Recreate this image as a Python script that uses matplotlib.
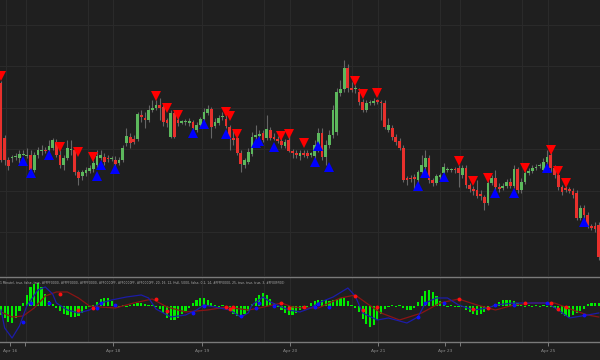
import numpy as np
import matplotlib
matplotlib.use('Agg')
import matplotlib.pyplot as plt

# candles (price units), one entry per bar
opens = [217, 162, 140, 142, 143, 142, 145, 144, 145, 130, 145, 149, 150, 150, 152, 158, 145, 135, 142, 150,
         150, 128, 124, 127, 129, 131, 135, 142, 143, 142, 141, 140, 137, 140, 157, 163, 161, 161, 185, 182,
         180, 190, 192, 195, 193, 180, 163, 187, 180, 177.5, 178, 177, 178, 170, 175, 181, 187, 191, 174, 177,
         183, 181, 173, 161.5, 162, 147, 135, 138, 146, 163, 164, 167, 162, 170, 162.5, 161, 159, 154, 160, 149,
         146.5, 144, 147, 147, 145.5, 144, 150, 167, 143, 155, 165, 168, 207, 211, 232, 212, 211, 208, 198, 190,
         197, 197, 199, 198, 197, 170, 172, 163, 159, 152, 121, 121.5, 122, 120, 128, 133, 142, 120, 117, 123.5,
         127, 130, 130, 130.5, 132, 125, 132, 115, 111, 110, 105, 103, 97, 117, 122, 112, 112, 114, 118, 114,
         131, 110, 118, 127, 129, 132, 134, 130, 138, 145, 132, 125, 113, 111, 110, 109, 107, 82, 92, 85,
         73, 74, 75]
highs = [219, 165, 143, 145, 147, 150, 150, 152, 150, 148, 153, 155, 153, 160, 162, 161, 150, 145, 160, 160,
         152, 130, 130, 133, 135, 140, 150, 150, 147, 145, 144, 144, 143, 155, 172, 167, 165, 188, 190, 188,
         195, 200, 200, 202, 197, 182, 190, 189, 183, 180, 181, 182, 180, 178, 183, 192, 195, 193, 182, 185,
         188, 185, 175, 170, 165, 150, 142, 152, 168, 175, 170, 170, 185, 173, 167, 164, 162, 161, 165, 151,
         150, 150, 150, 150, 148, 160, 172, 172, 160, 170, 195, 212, 220, 240, 236, 218, 215, 212, 201, 200,
         200, 202, 201, 200, 200, 182, 175, 166, 162, 155, 124, 125, 126, 130, 145, 150, 145, 122, 126, 127,
         137, 133, 132, 133, 135, 135, 135, 117, 114, 120, 110, 105, 120, 125, 130, 117, 117, 121, 122, 135,
         133, 122, 130, 132, 135, 136, 137, 142, 150, 148, 135, 128, 115, 114, 113, 112, 110, 95, 95, 88,
         76, 78, 78]
lows = [138, 135, 130, 138, 140, 137, 145, 142, 131, 128, 142, 145, 147, 148, 150, 143, 132, 130, 140, 145,
        125, 115, 120, 124, 127, 128, 132, 140, 135, 138, 139, 133, 135, 138, 154, 152, 156, 159, 178, 172,
        178, 188, 190, 180, 174, 173, 162, 162, 174, 176, 175, 174, 170, 168, 173, 179, 185, 162, 172, 175,
        180, 172, 150, 155, 145, 128, 132, 136, 144, 161, 162, 158, 160, 160, 160, 157, 152, 152, 148, 142,
        142, 140, 143, 142, 143, 140, 148, 140, 135, 152, 162, 165, 204, 208, 208, 208, 207, 195, 188, 188,
        195, 195, 196, 180, 171, 168, 160, 155, 150, 118, 115, 118, 110, 117, 126, 130, 117, 114, 115, 120,
        125, 128, 128, 127, 113, 122, 112, 108, 105, 102, 100, 90, 95, 115, 110, 108, 110, 112, 112, 112,
        107, 107, 116, 125, 127, 130, 132, 128, 136, 128, 122, 110, 105, 108, 107, 102, 80, 80, 82, 72,
        70, 68, 40]
closes = [140, 140, 134, 143, 144, 146, 146, 145, 130, 145, 150, 150, 149, 154, 160, 145, 135, 142, 152, 151,
          128, 122, 128, 130, 132, 137, 144, 145, 138, 141, 142, 136, 140, 152, 164, 157, 158, 186, 183, 180,
          190, 192, 195, 192, 178, 177, 187, 163, 177, 178.5, 179, 179, 172, 175, 181, 188, 191, 173, 178, 182,
          183.5, 174, 162, 160.5, 147, 136, 140, 148, 163, 165, 166, 160, 171, 162, 161.5, 159, 155, 158, 149, 147,
          145.5, 147, 145, 144, 146, 155, 167, 143, 155, 165, 190, 208, 211, 232, 212, 210, 212, 198, 190, 197,
          198, 199, 198.5, 197, 173, 175, 163, 158, 152, 120, 120.5, 121, 121.5, 128, 135, 142, 120, 117, 124, 124,
          133, 130.5, 130.5, 130, 127, 132, 115, 111, 109, 104, 104.5, 97, 117, 122, 113, 111.5, 114, 118, 114, 131,
          110, 118, 127, 129, 132, 133, 134.5, 138, 143, 132, 125, 113, 108, 110.5, 109.5, 105, 82, 92, 85, 75,
          72.5, 71, 43]

# signal triangles (bar index, price)
sell_idx = [0, 16, 21, 25, 42, 45, 48, 61, 62, 64, 76, 78, 82, 96, 98, 102, 124, 128, 132, 142, 149, 151, 153]
sell_px = [224, 153, 148, 143, 204, 192, 185, 188, 184, 166, 164, 166, 157, 219, 206, 207, 139, 119, 122, 132, 150, 129, 117]
buy_idx = [6, 8, 13, 26, 27, 31, 52, 55, 61, 69, 70, 74, 85, 86, 89, 113, 115, 120, 134, 139, 148, 158]
buy_px = [139, 127, 145, 124, 135, 131, 167, 176, 166, 157, 159, 153, 138, 154, 133, 114, 127, 123, 107, 107, 132, 78]

# oscillator histogram, one per bar
hist = [-9, -12, -16, -17, -12, -5, 3, 11, 19, 22, 23, 19, 12, 5, 2, -2, -5, -8, -9, -11,
        -11, -10, -7, -3, -1, 1, 4, 7, 8, 8, 5, 1, -1, 1, -1, 1, 2, 3, 3, 2,
        1, 0.5, -1, -3, -7, -12, -14, -14, -12, -8, -5, -2, 3, 6, 8, 8, 6, 3, 1, -1,
        1, -1, -4, -8, -10, -11, -8, -5, 2, 8, 11, 13, 11, 7, 3, -1, -4, -7, -9, -9,
        -7, -4, -2, -1, 3, 5, 6, 6, 6, 5, 6, 7, 8, 8, 5, 1, -2, -6, -13, -18,
        -21, -19, -14, -8, -3, -1, 1, -1, 1, -2, -4, -4, -2, 4, 10, 15, 16, 14, 10, 5,
        1, -1, 1, -1, -1, -1, -4, -6, -8, -9, -8, -6, -4, -1, 2, 4, 6, 6, 6, 5,
        3, 1, -1, 1, -1, 1, -1, 1, -1, -1, -2, -5, -8, -10, -11, -9, -7, -5, -3, 2,
        3, 3, 3]

fast_idx = [0, 1, 3, 5, 7, 10, 12, 14, 15, 18, 21, 24, 27, 30, 34, 38, 40, 42, 46, 50, 53, 55, 58, 62, 65,
            67, 68, 71, 73, 76, 78, 81, 84, 86, 90, 94, 96, 98, 102, 105, 110, 113, 115, 118, 121, 124, 128,
            132, 134, 139, 143, 148, 151, 154, 159, 162]
fast_val = [-4, -22, -32, -20, 0, 16, 19, 12, 3, -4, -7, -4, 3, 6, 9, 11, 8, -3, -11, -9, -4, 1, -1, -4, -11,
            -7, 1, 9, 4, -1, -4, -6, -2, 3, 9, 18, 10, -7, -14, -12, -17, -11, 3, 8, 8, 1, -4,
            -2, 1, 3, 3, 3, -4, -12, -9, -7]
slow_idx = [0, 3, 6, 9, 12, 15, 18, 21, 24, 27, 31, 36, 41, 45, 50, 56, 61, 67, 70, 76, 79, 82, 86, 92, 96,
            99, 103, 108, 114, 119, 124, 129, 134, 139, 144, 150, 155, 159, 162]
slow_val = [-6, -11, -10, -2, 10, 14, 14, 8, 0, -1, -2, 3, 7, -1, -6, -4, -1, -4, -2, 3, -1, -2, -2, 8, 11,
            3, -7, -14, -7, 3, 7, 1, -4, 1, 3, 3, -4, -9, -11]

red_dot_idx = [16, 21, 25, 42, 45, 61, 62, 63, 76, 78, 82, 96, 98, 102, 124, 128, 132, 142, 149, 151, 153]
red_dot_val = [12, -4, -2, 7, -5, -1, -3, -1, 3, -2, -1, 10, -4, -1, 7, -3, -2, 3, 3, -3, -1]
blue_dot_idx = [6, 8, 13, 26, 27, 31, 52, 55, 65, 69, 70, 74, 85, 86, 89, 113, 115, 120, 134, 139, 148, 158]
blue_dot_val = [-16, 3, 3, -2, 3, 1, -7, 0, -10, -2, 3, 0, -1, 2, -1, -11, 3, 3, 1, 1, 3, -9]

tick_pos = [2.44, 30.35, 54.47, 78.32, 102.2, 120.3, 148.2]
tick_labels = ['Apr 16', 'Apr 18', 'Apr 19', 'Apr 20', 'Apr 21', 'Apr 23', 'Apr 25']
extra_ticks = [6.5, 124.4]
grid_x = [1.36, 6.78, 23.6, 30.35, 54.47, 71.3, 78.3, 95.1, 102.2, 119.0, 124.4, 141.2, 148.2]
grid_y = [275, 234, 192, 151, 109, 68]

legend_text = ('1 Minute), true, false, true, #FFFF0000, #FFFF0000, #FFFF0000, #FF0000FF, #FF0000FF, '
               '#FF0000FF, 20, 16, 12, Hull, 5000, false, 0.2, 14, #FFFF0000, 25, true, true, true, 3, #FF00FF00)')

bg = '#1f1f1f'
gridc = '#2a2a2a'
n = len(opens)
x = np.arange(n)
o = np.array(opens)
c = np.array(closes)
up = c >= o
colors = np.where(up, '#5cb85c', '#e8302c')

fig = plt.figure(figsize=(6, 3.6), dpi=100, facecolor=bg)
ax = fig.add_axes([0, 0.2333, 1, 0.7667], facecolor=bg)
ax2 = fig.add_axes([0, 0.05, 1, 0.1806], facecolor=bg)

for a in (ax, ax2):
    for gx in grid_x:
        a.axvline(gx, color=gridc, lw=0.8, zorder=0)
    a.set_xlim(-0.27, 162.33)
for gy in grid_y:
    ax.axhline(gy, color=gridc, lw=0.8, zorder=0)

# candles
ax.vlines(x, lows, highs, color='#666666', lw=0.8, zorder=1)
ax.bar(x, np.maximum(np.abs(c - o), 1.2), bottom=np.minimum(o, c), width=0.74,
       color=colors, edgecolor='none', zorder=2)
ax.plot(sell_idx, sell_px, linestyle='none', marker='v', markersize=6.8, markeredgewidth=0,
        color='#ff0000', zorder=3)
ax.plot(buy_idx, buy_px, linestyle='none', marker='^', markersize=6.8, markeredgewidth=0,
        color='#0000ff', zorder=3)
ax.set_ylim(24, 300)
ax.set_xticks([])
ax.set_yticks([])
for s in ax.spines.values():
    s.set_visible(False)

# indicator panel
ax2.bar(x, hist, width=0.6, color='#00ee00', edgecolor='none', zorder=2)
ax2.plot(slow_idx, slow_val, color='#8a1414', lw=0.9, zorder=3)
ax2.plot(fast_idx, fast_val, color='#1c1ca8', lw=0.9, zorder=3)
ax2.plot(red_dot_idx, red_dot_val, linestyle='none', marker='o', markersize=2.8, markeredgewidth=0,
         color='#ff1010', zorder=4)
ax2.plot(blue_dot_idx, blue_dot_val, linestyle='none', marker='o', markersize=2.8, markeredgewidth=0,
         color='#1010ff', zorder=4)
ax2.set_ylim(-36, 29)
ax2.set_yticks([])
ax2.set_xticks(tick_pos)
ax2.set_xticklabels(tick_labels)
ax2.set_xticks(extra_ticks, minor=True)
ax2.tick_params(axis='x', which='both', colors='#8a8a8a', length=3, width=0.6, pad=2, labelsize=3.2)
for side in ('left', 'right'):
    ax2.spines[side].set_visible(False)
for side in ('top', 'bottom'):
    ax2.spines[side].set_color('#7a7a7a')
    ax2.spines[side].set_linewidth(1.0)
ax2.text(0.0, 0.94, legend_text, transform=ax2.transAxes, fontsize=2.2, color='#b0b0b0',
         ha='left', va='top', zorder=5)

fig.savefig('out.png', dpi=100, facecolor=bg)
